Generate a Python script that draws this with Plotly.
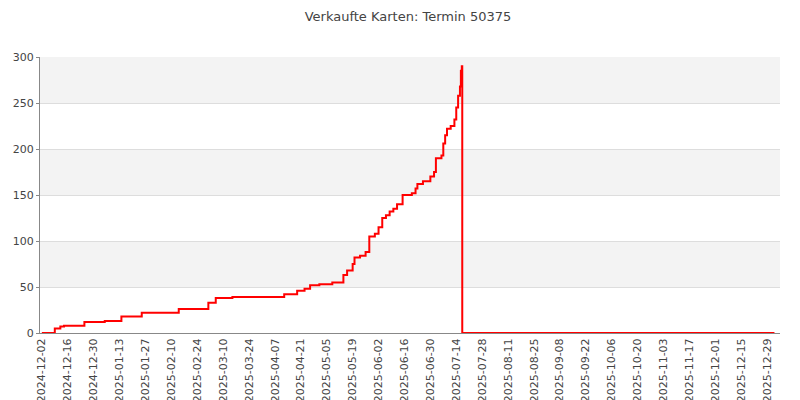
import plotly.graph_objs as go

dates = ['2024-12-02', '2024-12-06', '2024-12-09', '2024-12-12', '2024-12-14', '2024-12-25',
         '2025-01-05', '2025-01-14', '2025-01-25', '2025-02-14', '2025-03-02', '2025-03-06',
         '2025-03-15', '2025-04-12', '2025-04-19', '2025-04-23', '2025-04-26', '2025-05-01',
         '2025-05-08', '2025-05-14', '2025-05-16', '2025-05-19', '2025-05-20', '2025-05-23',
         '2025-05-26', '2025-05-28', '2025-05-31', '2025-06-02', '2025-06-04', '2025-06-06',
         '2025-06-08', '2025-06-10', '2025-06-12', '2025-06-15', '2025-06-20', '2025-06-22',
         '2025-06-23', '2025-06-26', '2025-06-30', '2025-07-02', '2025-07-03', '2025-07-06',
         '2025-07-07', '2025-07-08', '2025-07-09', '2025-07-11', '2025-07-13', '2025-07-14',
         '2025-07-15', '2025-07-16', '2025-07-16 12:00', '2025-07-17', '2025-07-17 06:00',
         '2026-01-02']
sold = [0, 0, 5, 7, 8, 12,
        13, 18, 22, 26, 33, 38,
        39, 42, 46, 48, 52, 53,
        55, 63, 68, 75, 82, 84,
        88, 105, 108, 115, 125, 128,
        132, 135, 140, 150, 152, 157,
        162, 165, 170, 175, 190, 193,
        206, 215, 222, 225, 232, 245,
        258, 268, 285, 290, 0,
        0]

y_ticks = [0, 50, 100, 150, 200, 250, 300]
bands = [(50, 100), (150, 200), (250, 300)]

fig = go.Figure(go.Scatter(x=dates, y=sold, mode='lines', line_shape='hv',
                           line=dict(color='#ff0000', width=2)))

for lo, hi in bands:
    fig.add_hrect(y0=lo, y1=hi, fillcolor='#f3f3f3', line_width=0, layer='below')

fig.update_layout(
    width=800, height=400,
    title=dict(text='Verkaufte Karten: Termin 50375', x=0.5, xanchor='center',
               y=0.99, yanchor='top',
               font=dict(size=13, color='#444', family='DejaVu Sans')),
    font=dict(family='DejaVu Sans', size=11, color='#444'),
    plot_bgcolor='white', paper_bgcolor='white',
    margin=dict(l=32, r=28, t=49, b=75),
    showlegend=False,
)
fig.update_xaxes(range=['2024-12-01', '2026-01-05'], tickformat='%Y-%m-%d',
                 tick0='2024-12-02', dtick=14 * 86400000, tickangle=-90,
                 showgrid=False, showline=True, linecolor='#888', automargin=False)
fig.update_yaxes(range=[0, 300], tickvals=y_ticks, gridcolor='#dddddd',
                 ticks='outside', ticklen=3, tickcolor='#888',
                 showline=True, linecolor='#888', zeroline=False, automargin=False)

fig.write_html('out.html')
